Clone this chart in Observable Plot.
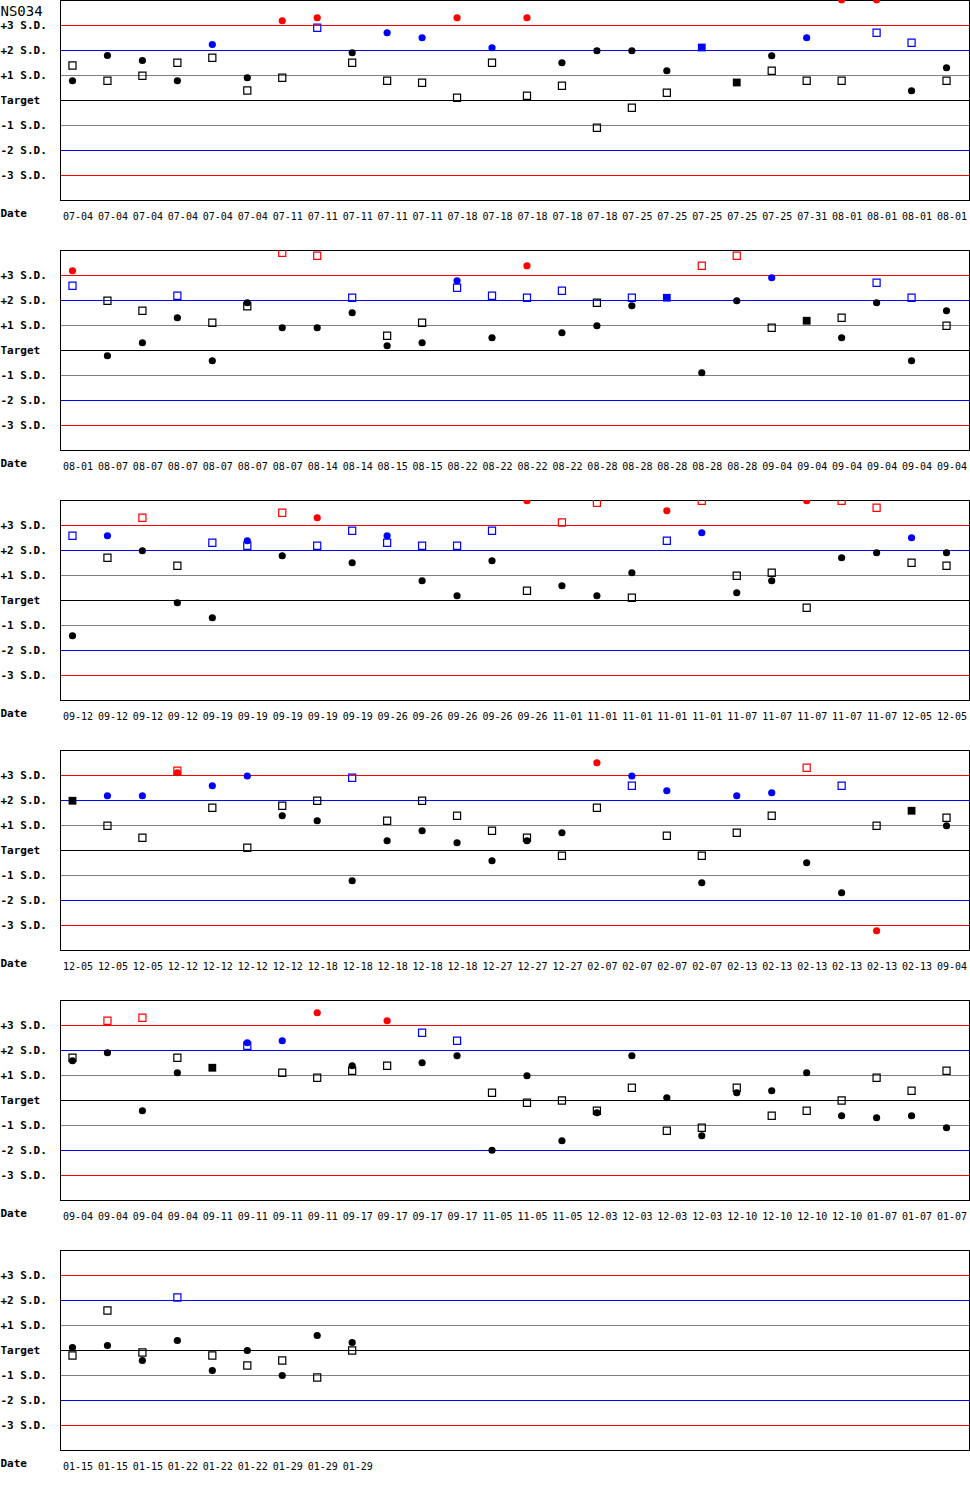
<!DOCTYPE html>
<html><head><meta charset="utf-8">
<script src="https://cdn.jsdelivr.net/npm/d3@7"></script>
<script src="https://cdn.jsdelivr.net/npm/@observablehq/plot@0.6"></script>
<style>body{margin:0;background:#fff;} svg{display:block;}</style>
</head><body><div id="chart"></div>
<script>
const title = "NS034";
const levels = [3, 2, 1, 0, -1, -2, -3];
const levelLabels = ["+3 S.D.", "+2 S.D.", "+1 S.D.", "Target", "-1 S.D.", "-2 S.D.", "-3 S.D."];
const dateLabel = "Date";

// Panel 1
const dates1 = ["07-04","07-04","07-04","07-04","07-04","07-04","07-11","07-11","07-11","07-11","07-11","07-18","07-18","07-18","07-18","07-18","07-25","07-25","07-25","07-25","07-25","07-31","08-01","08-01","08-01","08-01"];
const circle1 = [0.79,1.8,1.6,0.79,2.24,0.91,3.19,3.31,1.91,2.71,2.51,3.31,2.11,3.31,1.51,1.99,1.99,1.19,null,null,1.79,2.51,4.03,4.03,0.39,1.31];
const square1 = [1.4,0.79,0.99,1.51,1.71,0.4,0.91,2.91,1.51,0.79,0.71,0.11,1.51,0.19,0.59,-1.09,-0.29,0.31,null,null,1.19,0.79,0.79,2.71,2.31,0.79];
const solid1 = [null,null,null,null,null,null,null,null,null,null,null,null,null,null,null,null,null,null,2.12,0.72,null,null,null,null,null,null];

// Panel 2
const dates2 = ["08-01","08-07","08-07","08-07","08-07","08-07","08-07","08-14","08-14","08-15","08-15","08-22","08-22","08-22","08-22","08-28","08-28","08-28","08-28","08-28","09-04","09-04","09-04","09-04","09-04","09-04"];
const circle2 = [3.19,-0.21,0.31,1.31,-0.41,1.91,0.91,0.91,1.51,0.19,0.31,2.79,0.51,3.39,0.71,0.99,1.79,null,-0.89,1.99,2.91,null,0.51,1.91,-0.41,1.59];
const square2 = [2.59,1.99,1.59,2.19,1.11,1.77,3.91,3.79,2.11,0.59,1.11,2.51,2.19,2.11,2.39,1.91,2.11,null,3.39,3.79,0.91,null,1.31,2.71,2.11,0.99];
const solid2 = [null,null,null,null,null,null,null,null,null,null,null,null,null,null,null,null,null,2.11,null,null,null,1.19,null,null,null,null];

// Panel 3
const dates3 = ["09-12","09-12","09-12","09-12","09-19","09-19","09-19","09-19","09-19","09-26","09-26","09-26","09-26","09-26","11-01","11-01","11-01","11-01","11-01","11-07","11-07","11-07","11-07","11-07","12-05","12-05"];
const circle3 = [-1.41,2.59,1.99,-0.09,-0.69,2.39,1.79,3.31,1.51,2.59,0.79,0.19,1.59,3.99,0.59,0.19,1.11,3.59,2.71,0.31,0.79,3.99,1.71,1.91,2.51,1.91];
const square3 = [2.59,1.71,3.31,1.39,2.31,2.19,3.51,2.19,2.79,2.31,2.19,2.19,2.79,0.39,3.12,3.91,0.11,2.39,3.99,0.99,1.11,-0.29,3.99,3.71,1.51,1.39];
const solid3 = [];

// Panel 4
const dates4 = ["12-05","12-05","12-05","12-12","12-12","12-12","12-12","12-18","12-18","12-18","12-18","12-18","12-27","12-27","12-27","02-07","02-07","02-07","02-07","02-13","02-13","02-13","02-13","02-13","02-13","09-04"];
const circle4 = [null,2.19,2.19,3.11,2.59,2.98,1.39,1.19,-1.21,0.39,0.79,0.31,-0.41,0.39,0.71,3.51,2.98,2.39,-1.29,2.19,2.31,-0.49,-1.69,-3.21,null,0.99];
const square4 = [null,0.99,0.51,3.19,1.71,0.11,1.79,1.99,2.91,1.19,1.99,1.39,0.79,0.51,-0.21,1.71,2.59,0.59,-0.21,0.71,1.39,3.31,2.59,0.99,null,1.31];
const solid4 = [1.99,null,null,null,null,null,null,null,null,null,null,null,null,null,null,null,null,null,null,null,null,null,null,null,1.59,null];

// Panel 5
const dates5 = ["09-04","09-04","09-04","09-04","09-11","09-11","09-11","09-11","09-17","09-17","09-17","09-17","11-05","11-05","11-05","12-03","12-03","12-03","12-03","12-10","12-10","12-10","12-10","01-07","01-07","01-07"];
const circle5 = [1.59,1.91,-0.41,1.11,null,2.31,2.39,3.51,1.39,3.19,1.51,1.79,-1.99,0.99,-1.61,-0.49,1.79,0.11,-1.41,0.31,0.39,1.11,-0.61,-0.69,-0.61,-1.09];
const square5 = [1.71,3.19,3.31,1.71,null,2.19,1.11,0.91,1.19,1.39,2.71,2.39,0.31,-0.09,0.0,-0.41,0.51,-1.21,-1.09,0.51,-0.61,-0.41,0.0,0.91,0.39,1.19];
const solid5 = [null,null,null,null,1.31];

// Panel 6
const dates6 = ["01-15","01-15","01-15","01-22","01-22","01-22","01-29","01-29","01-29"];
const circle6 = [0.12,0.2,-0.4,0.4,-0.8,0.0,-1.0,0.6,0.32];
const square6 = [-0.2,1.6,-0.08,2.12,-0.2,-0.6,-0.4,-1.08,0.0];
const solid6 = [];

const panels = [
  {dates: dates1, circle: circle1, square: square1, solid: solid1},
  {dates: dates2, circle: circle2, square: square2, solid: solid2},
  {dates: dates3, circle: circle3, square: square3, solid: solid3},
  {dates: dates4, circle: circle4, square: square4, solid: solid4},
  {dates: dates5, circle: circle5, square: square5, solid: solid5},
  {dates: dates6, circle: circle6, square: square6, solid: solid6}
];

const RED = "#ff0000", BLUE = "#0000ff", GRAY = "#808080", BLACK = "#000000";
const pointColor = v => Math.abs(v) > 3 ? RED : Math.abs(v) > 2 ? BLUE : BLACK;
const lineColor = v => ({3: RED, 2: BLUE, 1: GRAY, 0: BLACK})[Math.abs(v)];
const pts = arr => arr.map((v, i) => ({i, v})).filter(d => d.v != null);
const slots = d3.range(26);
const DX = -5.5;

const root = document.getElementById("chart");
panels.forEach((p, k) => {
  const marks = [
    Plot.ruleY(levels, {y: d => d, stroke: lineColor, strokeWidth: 1}),
    Plot.frame({stroke: BLACK}),
    Plot.text(levels, {y: d => d, text: (d, i) => levelLabels[i], frameAnchor: "left", dx: -60, dy: -0.5, textAnchor: "start", fontWeight: "bold", fontSize: 11}),
    Plot.text([dateLabel], {frameAnchor: "bottom-left", dx: -60, dy: 16, textAnchor: "start", fontWeight: "bold", fontSize: 11}),
    Plot.text(p.dates, {x: (d, i) => i, text: d => d, frameAnchor: "bottom", dy: 19, fontSize: 10}),
    Plot.dot(pts(p.square), {x: "i", y: "v", dx: DX, symbol: "square", r: 4, fill: "none", stroke: d => pointColor(d.v), strokeWidth: 1.2}),
    Plot.dot(pts(p.solid), {x: "i", y: "v", dx: DX, symbol: "square", r: 4.4, fill: d => pointColor(d.v), stroke: "none"}),
    Plot.dot(pts(p.circle), {x: "i", y: "v", dx: DX, r: 3.6, fill: d => pointColor(d.v), stroke: "none"})
  ];
  if (k === 0) {
    marks.push(Plot.text([title], {frameAnchor: "top-left", dx: -60, dy: 6, textAnchor: "start", fontSize: 14}));
  }
  const svg = Plot.plot({
    width: 970,
    height: 250,
    marginLeft: 60,
    marginRight: 1,
    marginTop: 0,
    marginBottom: 50,
    style: {fontFamily: "'DejaVu Sans Mono', monospace", fontSize: "10px", background: "white", color: "black"},
    x: {type: "band", domain: slots, padding: 0, round: false, axis: null},
    y: {domain: [-4, 4], axis: null},
    color: {type: "identity"},
    marks
  });
  root.appendChild(svg);
});
</script>
</body></html>
